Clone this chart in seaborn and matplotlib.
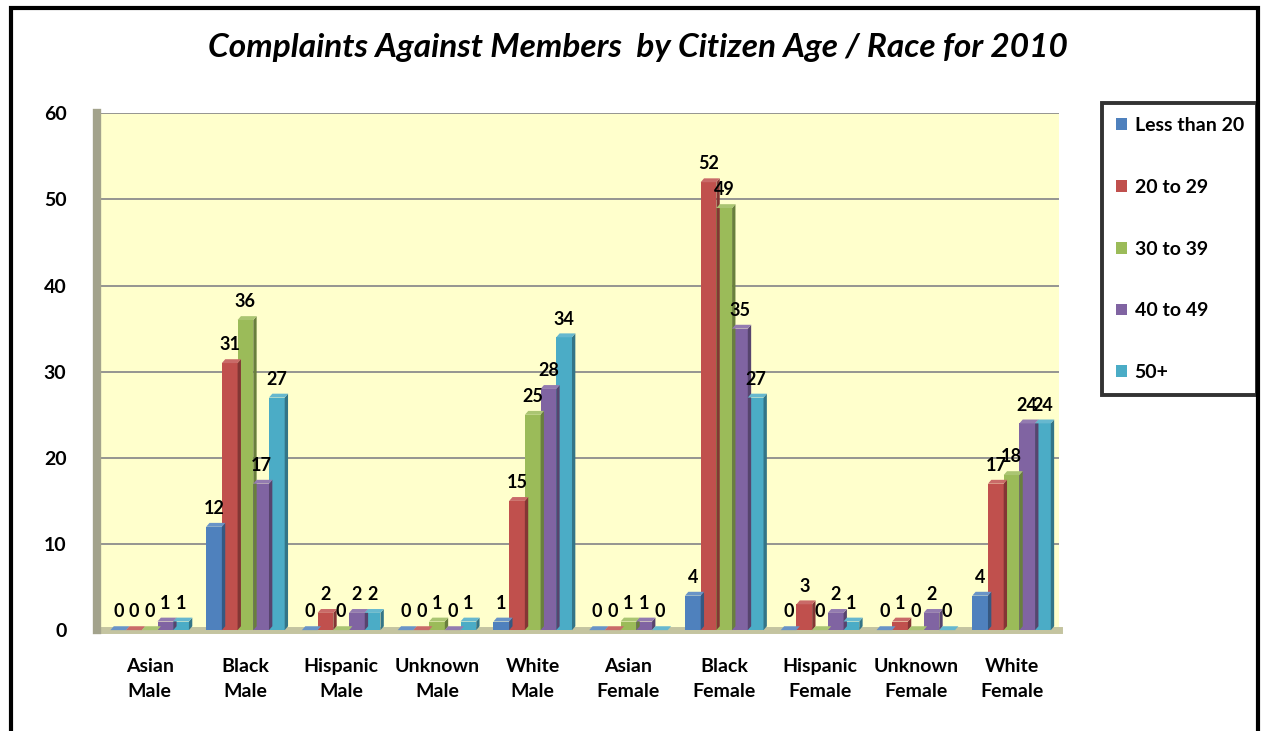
import matplotlib
matplotlib.use("Agg")
import matplotlib.pyplot as plt
import matplotlib.patches as mpatches
import matplotlib.colors as mcolors
import seaborn as sns
import pandas as pd

categories = ["Asian\nMale", "Black\nMale", "Hispanic\nMale", "Unknown\nMale", "White\nMale",
              "Asian\nFemale", "Black\nFemale", "Hispanic\nFemale", "Unknown\nFemale", "White\nFemale"]
groups = ["Less than 20", "20 to 29", "30 to 39", "40 to 49", "50+"]
less_than_20 = [0, 12, 0, 0, 1, 0, 4, 0, 0, 4]
age_20_29 = [0, 31, 2, 0, 15, 0, 52, 3, 1, 17]
age_30_39 = [0, 36, 0, 1, 25, 1, 49, 0, 0, 18]
age_40_49 = [1, 17, 2, 0, 28, 1, 35, 2, 2, 24]
age_50_plus = [1, 27, 2, 1, 34, 0, 27, 1, 0, 24]
series = [less_than_20, age_20_29, age_30_39, age_40_49, age_50_plus]
colors = ["#4F81BD", "#C0504D", "#9BBB59", "#8064A2", "#4BACC6"]

rows = []
for g, vals in zip(groups, series):
    for c, v in zip(categories, vals):
        rows.append({"Category": c, "Age": g, "Count": v})
df = pd.DataFrame(rows)

sns.set_theme(style="white")
plt.rcParams["font.family"] = ["Lato", "DejaVu Sans"]
plt.rcParams["text.color"] = "black"
plt.rcParams["xtick.color"] = "black"
plt.rcParams["ytick.color"] = "black"

fig = plt.figure(figsize=(12.68, 7.31), dpi=100)
ax = fig.add_axes([0.0765, 0.138, 0.759, 0.707])
ax.set_facecolor("#FFFFCC")

sns.barplot(data=df, x="Category", y="Count", hue="Age", order=categories,
            hue_order=groups, palette=colors, width=0.82, ax=ax,
            edgecolor="none", saturation=1, legend=True)

ax.set_ylim(0, 60)
ax.set_xlim(-0.55, 9.5)

# pseudo-3D faces derived from the drawn bars
dx, dy = 0.035, 0.45
for cont in ax.containers:
    for rect in cont.patches:
        x0, w, h = rect.get_x(), rect.get_width(), rect.get_height()
        base = mcolors.to_rgb(rect.get_facecolor())
        side = tuple(c * 0.68 for c in base)
        top = tuple(min(1, c * 0.85 + 0.15) for c in base)
        ax.add_patch(mpatches.Polygon([(x0 + w, 0), (x0 + w + dx, dy), (x0 + w + dx, h + dy), (x0 + w, h)],
                                      closed=True, facecolor=side, edgecolor="none", zorder=3, clip_on=False))
        ax.add_patch(mpatches.Polygon([(x0, h), (x0 + dx, h + dy), (x0 + w + dx, h + dy), (x0 + w, h)],
                                      closed=True, facecolor=top, edgecolor="none", zorder=3, clip_on=False))
        rect.set_zorder(3)
        rect.set_clip_on(False)

for cont in ax.containers:
    ax.bar_label(cont, padding=7, fontsize=13, fontweight="bold", color="black")

ax.set_yticks(range(0, 61, 10))
ax.yaxis.grid(True, color="#8C8C8C", linewidth=1.3)
ax.set_axisbelow(True)
ax.set_xlabel("")
ax.set_ylabel("")
for lbl in ax.get_xticklabels() + ax.get_yticklabels():
    lbl.set_fontweight("bold")
    lbl.set_fontsize(14)
for lbl in ax.get_xticklabels():
    lbl.set_linespacing(1.55)
ax.tick_params(axis="x", pad=20, length=0)
ax.tick_params(axis="y", length=0, pad=22)
for s in ["top", "right"]:
    ax.spines[s].set_visible(False)
ax.spines["left"].set_color("#A3A38C")
ax.spines["left"].set_linewidth(6)
ax.spines["bottom"].set_color("#C4C4A0")
ax.spines["bottom"].set_linewidth(5)
ax.spines["bottom"].set_zorder(2)

leg = ax.legend(loc="upper left", bbox_to_anchor=(1.0447, 1.019), frameon=True,
                fontsize=14, labelspacing=2.3, handlelength=0.55, handleheight=0.55,
                handletextpad=0.4, borderpad=0.7, fancybox=False, borderaxespad=0)
leg.get_frame().set_edgecolor("black")
leg.get_frame().set_linewidth(2.8)
for t in leg.get_texts():
    t.set_fontweight("bold")

fig.text(0.503, 0.935, "Complaints Against Members  by Citizen Age / Race for 2010",
         ha="center", va="center", fontsize=24, fontweight="bold", fontstyle="italic")

fig.patches.append(mpatches.Rectangle((0.009, -0.01), 0.983, 0.999, transform=fig.transFigure,
                                      fill=False, edgecolor="black", linewidth=3))

fig.savefig("out.png", dpi=100)
